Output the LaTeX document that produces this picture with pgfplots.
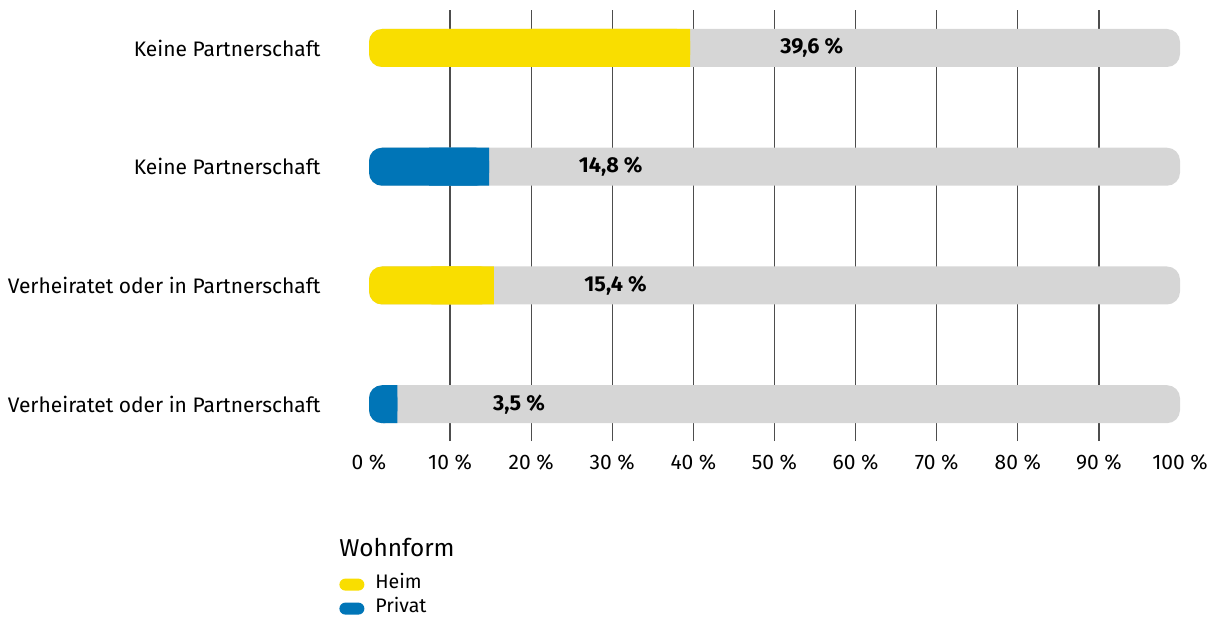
\documentclass[border=0pt]{standalone}
\usepackage{fontspec}
\setmainfont{Fira Sans}
\usepackage{pgfplots}
\pgfplotsset{compat=1.18}

\definecolor{heim}{HTML}{F9DE00}
\definecolor{privat}{HTML}{0075B7}
\definecolor{barbg}{HTML}{D6D6D6}
\definecolor{gridc}{HTML}{4D4D4D}

\begin{document}
\begin{tikzpicture}
% picture frame: 1214 x 617 px at 0.5pt per px, axis box lower left at (0,0)
\useasboundingbox (-184.5pt,-88pt) rectangle (422.5pt,220.5pt);

\pgfplotsset{
  rowaxis/.style={
    at={(0,0)}, anchor=south west,
    scale only axis, width=405.5pt, height=215.5pt,
    xmin=0, xmax=100, ymin=0.69, ymax=4.32,
  },
}

% 1) grid, tick labels, legend (drawn first so the bars cover the grid)
\begin{axis}[
  rowaxis, clip=false,
  axis line style={draw=none},
  major tick length=0pt,
  xtick={10,20,...,90},
  extra x ticks={0,100},
  extra x tick style={grid=none},
  xmajorgrids,
  major grid style={gridc, line width=0.6pt},
  xticklabel={\pgfmathprintnumber[assume math mode=true]{\tick}~\%},
  xticklabel style={font=\fontsize{10.5}{12}\selectfont, yshift=-3pt},
  ytick={1,2,3,4},
  yticklabels={Verheiratet oder in Partnerschaft, Verheiratet oder in Partnerschaft, Keine Partnerschaft, Keine Partnerschaft},
  yticklabel style={font=\fontsize{10.5}{12}\selectfont, xshift=-20.7pt},
  legend image code/.code={\fill[#1, rounded corners=3pt] (0pt,-3pt) rectangle (12.5pt,3pt);},
  legend style={at={(-0.037,-0.361)}, anchor=west, draw=none, fill=none,
    inner xsep=0pt, inner ysep=0pt, column sep=5.5pt, row sep=3pt,
    font=\fontsize{9.8}{11}\selectfont,
    nodes={inner sep=0pt, text height=6.5pt, text depth=2.5pt},
    cells={anchor=west}},
]
\node[anchor=base west, inner sep=0pt, font=\fontsize{12.2}{14}\selectfont]
  at (axis description cs:-0.037,-0.267) {Wohnform};

\addlegendimage{fill=heim, draw=none}
\addlegendentry{Heim}
\addlegendimage{fill=privat, draw=none}
\addlegendentry{Privat}
\end{axis}

% 2) bars
\begin{axis}[rowaxis, hide axis]
% background bars 0-100 %
\addplot[xbar, bar width=19pt, bar shift=0pt, fill=barbg, draw=none, rounded corners=6.5pt]
  coordinates {(100,1) (100,2) (100,3) (100,4)};
% coloured bars, rounded at both ends (right end squared off in the overlay axis)
\addplot[xbar, bar width=19pt, bar shift=0pt, fill=heim, draw=none, rounded corners=6.5pt]
  coordinates {(39.6,4) (15.4,2)};
\addplot[xbar, bar width=19pt, bar shift=0pt, fill=privat, draw=none, rounded corners=6.5pt]
  coordinates {(14.8,3) (3.5,1)};

\node[font=\bfseries\fontsize{10.8}{12}\selectfont] at (axis cs:54.6,4) {39,6~\%};
\node[font=\bfseries\fontsize{10.8}{12}\selectfont] at (axis cs:29.8,3) {14,8~\%};
\node[font=\bfseries\fontsize{10.8}{12}\selectfont] at (axis cs:30.4,2) {15,4~\%};
\node[font=\bfseries\fontsize{10.8}{12}\selectfont] at (axis cs:18.5,1) {3,5~\%};
\end{axis}

% 3) overlay: square right ends of the coloured bars (second half of each bar)
\begin{axis}[
  rowaxis, hide axis,
  xbar stacked, bar width=19pt,
]
\addplot[fill=none, draw=none] coordinates {(19.8,4) (7.4,3) (7.7,2) (1.75,1)};
\addplot[fill=heim, draw=none] coordinates {(19.8,4) (0,3) (7.7,2) (0,1)};
\addplot[fill=privat, draw=none] coordinates {(0,4) (7.4,3) (0,2) (1.75,1)};
\end{axis}
\end{tikzpicture}
\end{document}
